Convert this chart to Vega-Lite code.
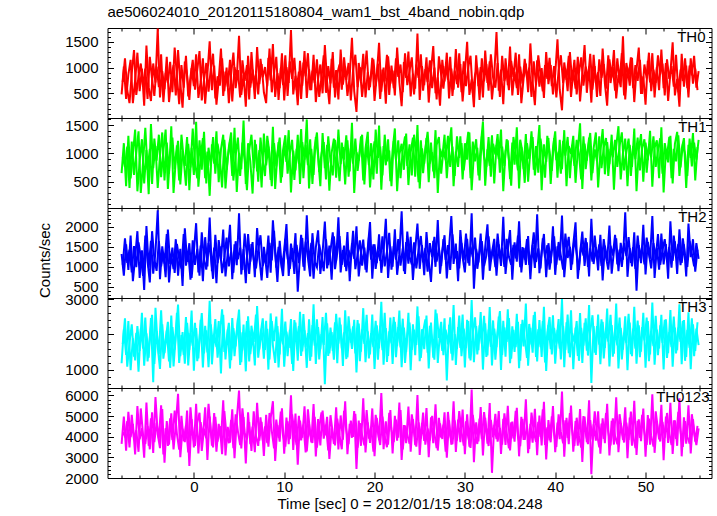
{
"$schema": "https://vega.github.io/schema/vega-lite/v6.json",
"padding": {"left": 36.5, "top": 4, "right": 2, "bottom": 2},
"background": "white",
"spacing": 0,
"bounds": "flush",
"config": {
  "font": "Liberation Sans",
  "view": {"stroke": "black", "strokeWidth": 1},
  "concat": {"spacing": 0},
  "line": {"strokeWidth": 2},
  "axis": {"format": "d", "labelFont": "Liberation Sans", "labelFontSize": 15, "labelColor": "black", "titleFont": "Liberation Sans", "titleFontSize": 15, "titleFontWeight": "normal", "titleColor": "black", "grid": false, "domain": false, "tickColor": "black", "tickWidth": 1, "labelOverlap": false, "labelFlush": false, "labelBound": false, "labelPadding": 15.5, "titlePadding": 12}
},
"datasets": {"lc": [
{"t":-8,"a":480,"b":650,"c":1320,"d":1180,"e":3650},
{"t":-7.75,"a":1020,"b":1180,"c":780,"d":2150,"e":4980},
{"t":-7.5,"a":390,"b":420,"c":1560,"d":1420,"e":3320},
{"t":-7.25,"a":870,"b":1310,"c":920,"d":2380,"e":5210},
{"t":-7,"a":1150,"b":560,"c":1780,"d":980,"e":3980},
{"t":-6.75,"a":310,"b":980,"c":640,"d":1890,"e":4620},
{"t":-6.5,"a":760,"b":1420,"c":1230,"d":1260,"e":3140},
{"t":-6.25,"a":1290,"b":330,"c":1890,"d":2240,"e":5480},
{"t":-6,"a":540,"b":870,"c":720,"d":1530,"e":3870},
{"t":-5.75,"a":980,"b":1250,"c":1410,"d":2620,"e":4410},
{"t":-5.5,"a":260,"b":470,"c":420,"d":1110,"e":2980},
{"t":-5.25,"a":1430,"b":1060,"c":2020,"d":2030,"e":5660},
{"t":-5,"a":620,"b":280,"c":980,"d":1340,"e":3560},
{"t":-4.75,"a":350,"b":1520,"c":1650,"d":2470,"e":4890},
{"t":-4.5,"a":1080,"b":740,"c":830,"d":640,"e":3210},
{"t":-4.25,"a":710,"b":1130,"c":1370,"d":2760,"e":5920},
{"t":-4,"a":1760,"b":390,"c":2410,"d":1650,"e":4120},
{"t":-3.75,"a":420,"b":960,"c":690,"d":1020,"e":3450},
{"t":-3.5,"a":930,"b":1370,"c":1510,"d":2290,"e":5340},
{"t":-3.25,"a":580,"b":520,"c":1080,"d":1470,"e":2740},
{"t":-3,"a":1210,"b":1190,"c":1820,"d":2110,"e":4760},
{"t":-2.75,"a":330,"b":640,"c":610,"d":1230,"e":3620},
{"t":-2.5,"a":800,"b":1480,"c":1290,"d":2540,"e":5130},
{"t":-2.25,"a":1050,"b":300,"c":940,"d":1090,"e":3380},
{"t":-2,"a":460,"b":890,"c":1690,"d":1960,"e":4570},
{"t":-1.75,"a":1340,"b":1220,"c":780,"d":2850,"e":6080},
{"t":-1.5,"a":690,"b":450,"c":1450,"d":1380,"e":3010},
{"t":-1.25,"a":220,"b":1040,"c":520,"d":2070,"e":4390},
{"t":-1,"a":1120,"b":780,"c":1960,"d":1170,"e":3740},
{"t":-0.75,"a":850,"b":1290,"c":1120,"d":2330,"e":5270},
{"t":-0.5,"a":370,"b":350,"c":1590,"d":1560,"e":2580},
{"t":-0.25,"a":990,"b":1100,"c":720,"d":2680,"e":4850},
{"t":0,"a":640,"b":620,"c":1380,"d":970,"e":3480},
{"t":0.25,"a":1260,"b":1560,"c":2090,"d":2180,"e":5590},
{"t":0.5,"a":410,"b":410,"c":860,"d":1320,"e":3190},
{"t":0.75,"a":720,"b":940,"c":1530,"d":2420,"e":4710},
{"t":1,"a":1180,"b":1270,"c":640,"d":1060,"e":3920},
{"t":1.25,"a":300,"b":560,"c":1740,"d":2250,"e":5420},
{"t":1.5,"a":880,"b":1030,"c":1010,"d":1490,"e":2870},
{"t":1.75,"a":1510,"b":250,"c":2230,"d":2960,"e":4980},
{"t":2,"a":560,"b":1160,"c":890,"d":1150,"e":3560},
{"t":2.25,"a":1040,"b":820,"c":1480,"d":2020,"e":5150},
{"t":2.5,"a":280,"b":1390,"c":590,"d":1640,"e":3270},
{"t":2.75,"a":760,"b":490,"c":1670,"d":2380,"e":4620},
{"t":3,"a":1370,"b":1070,"c":1160,"d":890,"e":3830},
{"t":3.25,"a":450,"b":1330,"c":1930,"d":2560,"e":5760},
{"t":3.5,"a":920,"b":380,"c":760,"d":1290,"e":3090},
{"t":3.75,"a":630,"b":930,"c":1350,"d":2150,"e":4480},
{"t":4,"a":1150,"b":1210,"c":2050,"d":1030,"e":3710},
{"t":4.25,"a":340,"b":600,"c":690,"d":2470,"e":5330},
{"t":4.5,"a":1010,"b":1450,"c":1560,"d":1380,"e":2960},
{"t":4.75,"a":790,"b":320,"c":1040,"d":2090,"e":4830},
{"t":5,"a":1620,"b":1010,"c":2340,"d":2710,"e":6240},
{"t":5.25,"a":470,"b":720,"c":810,"d":1210,"e":3430},
{"t":5.5,"a":860,"b":1580,"c":1440,"d":2280,"e":4950},
{"t":5.75,"a":240,"b":460,"c":590,"d":950,"e":2710},
{"t":6,"a":1230,"b":1180,"c":1820,"d":2520,"e":5180},
{"t":6.25,"a":610,"b":860,"c":1130,"d":1440,"e":3640},
{"t":6.5,"a":960,"b":290,"c":1620,"d":2030,"e":4490},
{"t":6.75,"a":390,"b":1240,"c":740,"d":1120,"e":3250},
{"t":7,"a":1400,"b":680,"c":1970,"d":2810,"e":5640},
{"t":7.25,"a":680,"b":1060,"c":1230,"d":1570,"e":3810},
{"t":7.5,"a":1070,"b":400,"c":660,"d":2170,"e":4720},
{"t":7.75,"a":520,"b":1350,"c":1500,"d":1310,"e":3070},
{"t":8,"a":310,"b":790,"c":1060,"d":2390,"e":5060},
{"t":8.25,"a":1190,"b":1120,"c":1780,"d":1000,"e":3520},
{"t":8.5,"a":750,"b":530,"c":850,"d":2600,"e":4890},
{"t":8.75,"a":1460,"b":1470,"c":2160,"d":1690,"e":5720},
{"t":9,"a":430,"b":370,"c":1340,"d":1190,"e":2830},
{"t":9.25,"a":890,"b":990,"c":620,"d":2240,"e":4560},
{"t":9.5,"a":600,"b":1280,"c":1650,"d":1430,"e":3760},
{"t":9.75,"a":1280,"b":580,"c":960,"d":2730,"e":5380},
{"t":10,"a":360,"b":1140,"c":1410,"d":1080,"e":3180},
{"t":10.25,"a":1010,"b":850,"c":2070,"d":2080,"e":4930},
{"t":10.5,"a":700,"b":1410,"c":770,"d":1620,"e":3640},
{"t":10.75,"a":1730,"b":310,"c":1580,"d":2440,"e":6010},
{"t":11,"a":480,"b":1050,"c":1120,"d":960,"e":3360},
{"t":11.25,"a":840,"b":700,"c":1840,"d":2340,"e":5120},
{"t":11.5,"a":270,"b":1330,"c":380,"d":1250,"e":2650},
{"t":11.75,"a":1130,"b":460,"c":1290,"d":2650,"e":4780},
{"t":12,"a":650,"b":1200,"c":1720,"d":1520,"e":3950},
{"t":12.25,"a":1320,"b":890,"c":900,"d":2120,"e":5470},
{"t":12.5,"a":410,"b":1600,"c":2290,"d":1050,"e":3290},
{"t":12.75,"a":970,"b":380,"c":1050,"d":2430,"e":4620},
{"t":13,"a":560,"b":1080,"c":1600,"d":1370,"e":3720},
{"t":13.25,"a":1250,"b":620,"c":700,"d":2860,"e":5580},
{"t":13.5,"a":330,"b":1290,"c":1480,"d":1160,"e":3040},
{"t":13.75,"a":780,"b":950,"c":1910,"d":2210,"e":4850},
{"t":14,"a":1060,"b":420,"c":820,"d":1580,"e":3580},
{"t":14.25,"a":500,"b":1360,"c":1370,"d":2500,"e":5270},
{"t":14.5,"a":1440,"b":740,"c":2130,"d":580,"e":4070},
{"t":14.75,"a":720,"b":1150,"c":960,"d":2320,"e":4960},
{"t":15,"a":290,"b":340,"c":1530,"d":1460,"e":2920},
{"t":15.25,"a":1170,"b":1010,"c":680,"d":2070,"e":4410},
{"t":15.5,"a":610,"b":1260,"c":1760,"d":1280,"e":3650},
{"t":15.75,"a":950,"b":570,"c":1160,"d":2590,"e":5430},
{"t":16,"a":380,"b":1420,"c":2240,"d":1740,"e":3380},
{"t":16.25,"a":1350,"b":810,"c":860,"d":2280,"e":5030},
{"t":16.5,"a":670,"b":1110,"c":1420,"d":1100,"e":3850},
{"t":16.75,"a":1020,"b":450,"c":1000,"d":2690,"e":5710},
{"t":17,"a":450,"b":1230,"c":1870,"d":1350,"e":3150},
{"t":17.25,"a":830,"b":680,"c":640,"d":2160,"e":4620},
{"t":17.5,"a":1580,"b":1540,"c":1590,"d":1590,"e":3950},
{"t":17.75,"a":540,"b":300,"c":1200,"d":2420,"e":5240},
{"t":18,"a":140,"b":1020,"c":2010,"d":920,"e":2440},
{"t":18.25,"a":1090,"b":870,"c":760,"d":2310,"e":4780},
{"t":18.5,"a":740,"b":1300,"c":1340,"d":1510,"e":3560},
{"t":18.75,"a":1270,"b":520,"c":1680,"d":2750,"e":5860},
{"t":19,"a":420,"b":1090,"c":930,"d":1210,"e":3240},
{"t":19.25,"a":910,"b":1380,"c":1460,"d":2090,"e":4690},
{"t":19.5,"a":620,"b":400,"c":2120,"d":1430,"e":3700},
{"t":19.75,"a":1190,"b":960,"c":700,"d":2570,"e":5370},
{"t":20,"a":350,"b":1210,"c":1560,"d":1020,"e":3060},
{"t":20.25,"a":860,"b":640,"c":1090,"d":2260,"e":4910},
{"t":20.5,"a":1480,"b":1490,"c":1810,"d":1600,"e":3830},
{"t":20.75,"a":530,"b":360,"c":850,"d":2930,"e":6120},
{"t":21,"a":1000,"b":1130,"c":1390,"d":1140,"e":3400},
{"t":21.25,"a":300,"b":790,"c":2200,"d":2180,"e":4740},
{"t":21.5,"a":1220,"b":1250,"c":720,"d":1390,"e":3620},
{"t":21.75,"a":690,"b":510,"c":1510,"d":2480,"e":5290},
{"t":22,"a":940,"b":1060,"c":1000,"d":1160,"e":3190},
{"t":22.25,"a":460,"b":1440,"c":1940,"d":2360,"e":5010},
{"t":22.5,"a":1390,"b":330,"c":800,"d":1670,"e":3810},
{"t":22.75,"a":710,"b":980,"c":1310,"d":2680,"e":5650},
{"t":23,"a":250,"b":1170,"c":2390,"d":1070,"e":2870},
{"t":23.25,"a":1110,"b":710,"c":890,"d":2200,"e":4560},
{"t":23.5,"a":800,"b":1350,"c":1620,"d":1500,"e":3690},
{"t":23.75,"a":1310,"b":440,"c":1080,"d":2620,"e":5460},
{"t":24,"a":440,"b":1020,"c":1750,"d":980,"e":3280},
{"t":24.25,"a":880,"b":1280,"c":670,"d":2290,"e":4860},
{"t":24.5,"a":590,"b":590,"c":1430,"d":1410,"e":3590},
{"t":24.75,"a":1660,"b":1500,"c":2080,"d":2800,"e":6020},
{"t":25,"a":370,"b":380,"c":950,"d":1240,"e":3120},
{"t":25.25,"a":1030,"b":1090,"c":1540,"d":2150,"e":4670},
{"t":25.5,"a":660,"b":820,"c":790,"d":1580,"e":3800},
{"t":25.75,"a":1200,"b":1270,"c":1870,"d":2540,"e":5390},
{"t":26,"a":320,"b":490,"c":1150,"d":1030,"e":3010},
{"t":26.25,"a":940,"b":1190,"c":620,"d":2340,"e":4940},
{"t":26.5,"a":1420,"b":680,"c":1650,"d":1340,"e":3690},
{"t":26.75,"a":500,"b":1410,"c":1000,"d":2710,"e":5570},
{"t":27,"a":810,"b":300,"c":2170,"d":1190,"e":3330},
{"t":27.25,"a":260,"b":1080,"c":830,"d":2100,"e":4650},
{"t":27.5,"a":1150,"b":930,"c":1390,"d":1530,"e":3890},
{"t":27.75,"a":730,"b":1330,"c":1790,"d":2460,"e":5180},
{"t":28,"a":1290,"b":560,"c":710,"d":690,"e":2980},
{"t":28.25,"a":400,"b":1120,"c":1480,"d":2280,"e":4790},
{"t":28.5,"a":980,"b":1460,"c":2270,"d":1450,"e":3610},
{"t":28.75,"a":570,"b":420,"c":1070,"d":2840,"e":5720},
{"t":29,"a":1360,"b":1030,"c":1580,"d":1130,"e":3260},
{"t":29.25,"a":610,"b":760,"c":640,"d":2210,"e":4830},
{"t":29.5,"a":1070,"b":1300,"c":1920,"d":1620,"e":3740},
{"t":29.75,"a":340,"b":540,"c":1240,"d":2570,"e":5310},
{"t":30,"a":890,"b":1180,"c":860,"d":1060,"e":3150},
{"t":30.25,"a":1500,"b":890,"c":1700,"d":2420,"e":5080},
{"t":30.5,"a":470,"b":1370,"c":1030,"d":1320,"e":3520},
{"t":30.75,"a":770,"b":350,"c":2340,"d":2980,"e":6280},
{"t":31,"a":230,"b":1000,"c":450,"d":1210,"e":2760},
{"t":31.25,"a":1240,"b":1250,"c":1450,"d":2240,"e":4700},
{"t":31.5,"a":640,"b":610,"c":1110,"d":1550,"e":3770},
{"t":31.75,"a":1010,"b":1120,"c":1830,"d":2640,"e":5440},
{"t":32,"a":420,"b":1560,"c":680,"d":1000,"e":3090},
{"t":32.25,"a":1330,"b":430,"c":1500,"d":2320,"e":4920},
{"t":32.5,"a":700,"b":1070,"c":2060,"d":1400,"e":3660},
{"t":32.75,"a":1120,"b":780,"c":900,"d":2780,"e":5630},
{"t":33,"a":380,"b":1320,"c":1360,"d":1120,"e":2250},
{"t":33.25,"a":850,"b":470,"c":1700,"d":2170,"e":4580},
{"t":33.5,"a":1690,"b":1150,"c":780,"d":1640,"e":3880},
{"t":33.75,"a":550,"b":900,"c":1560,"d":2510,"e":5240},
{"t":34,"a":960,"b":1420,"c":1020,"d":990,"e":3170},
{"t":34.25,"a":290,"b":330,"c":2250,"d":2390,"e":4870},
{"t":34.5,"a":1180,"b":1040,"c":820,"d":1370,"e":3600},
{"t":34.75,"a":660,"b":1230,"c":1440,"d":2720,"e":5500},
{"t":35,"a":1410,"b":550,"c":1920,"d":1180,"e":3340},
{"t":35.25,"a":460,"b":1190,"c":680,"d":2230,"e":4730},
{"t":35.5,"a":920,"b":800,"c":1610,"d":1500,"e":3760},
{"t":35.75,"a":600,"b":1460,"c":1130,"d":2590,"e":5400},
{"t":36,"a":1260,"b":380,"c":2140,"d":1040,"e":3050},
{"t":36.25,"a":310,"b":1110,"c":860,"d":2300,"e":4960},
{"t":36.5,"a":790,"b":720,"c":1470,"d":1660,"e":3840},
{"t":36.75,"a":1080,"b":1340,"c":1050,"d":2880,"e":5810},
{"t":37,"a":520,"b":500,"c":1770,"d":1110,"e":3200},
{"t":37.25,"a":1470,"b":1060,"c":690,"d":2190,"e":4620},
{"t":37.5,"a":720,"b":1290,"c":1550,"d":1480,"e":3710},
{"t":37.75,"a":270,"b":610,"c":970,"d":2650,"e":5350},
{"t":38,"a":1140,"b":1000,"c":2310,"d":1230,"e":3100},
{"t":38.25,"a":630,"b":1500,"c":840,"d":2410,"e":5030},
{"t":38.5,"a":990,"b":350,"c":1380,"d":1360,"e":3580},
{"t":38.75,"a":410,"b":1160,"c":1820,"d":2790,"e":5690},
{"t":39,"a":1300,"b":850,"c":740,"d":960,"e":2900},
{"t":39.25,"a":680,"b":1270,"c":1590,"d":2270,"e":4810},
{"t":39.5,"a":1050,"b":460,"c":1090,"d":1580,"e":3730},
{"t":39.75,"a":480,"b":1090,"c":2010,"d":2550,"e":5480},
{"t":40,"a":870,"b":1390,"c":800,"d":1170,"e":3250},
{"t":40.25,"a":1550,"b":570,"c":1510,"d":2130,"e":4690},
{"t":40.5,"a":570,"b":1240,"c":1160,"d":1600,"e":3880},
{"t":40.75,"a":170,"b":720,"c":2280,"d":3010,"e":6190},
{"t":41,"a":1100,"b":1410,"c":740,"d":1070,"e":3030},
{"t":41.25,"a":760,"b":420,"c":1420,"d":2350,"e":4910},
{"t":41.5,"a":1230,"b":1130,"c":1750,"d":1470,"e":3640},
{"t":41.75,"a":430,"b":990,"c":920,"d":2690,"e":5510},
{"t":42,"a":950,"b":1310,"c":1560,"d":1010,"e":3270},
{"t":42.25,"a":590,"b":480,"c":2110,"d":2200,"e":4760},
{"t":42.5,"a":1210,"b":1050,"c":700,"d":1390,"e":3570},
{"t":42.75,"a":340,"b":1530,"c":1330,"d":2610,"e":5340},
{"t":43,"a":880,"b":370,"c":1880,"d":1190,"e":2780},
{"t":43.25,"a":1440,"b":1170,"c":1020,"d":2330,"e":4970},
{"t":43.5,"a":510,"b":870,"c":1610,"d":1540,"e":3740},
{"t":43.75,"a":1020,"b":1280,"c":760,"d":2840,"e":5770},
{"t":44,"a":320,"b":520,"c":2200,"d":620,"e":2180},
{"t":44.25,"a":1250,"b":1090,"c":1070,"d":2240,"e":4600},
{"t":44.5,"a":700,"b":1370,"c":1490,"d":1420,"e":3810},
{"t":44.75,"a":910,"b":400,"c":910,"d":2570,"e":5230},
{"t":45,"a":450,"b":1020,"c":1800,"d":1150,"e":3180},
{"t":45.25,"a":1370,"b":1430,"c":660,"d":2360,"e":4890},
{"t":45.5,"a":690,"b":630,"c":1530,"d":1620,"e":3690},
{"t":45.75,"a":260,"b":1200,"c":1140,"d":2740,"e":5600},
{"t":46,"a":1160,"b":810,"c":2030,"d":1090,"e":3090},
{"t":46.25,"a":810,"b":1330,"c":830,"d":2270,"e":4770},
{"t":46.5,"a":1340,"b":360,"c":1400,"d":1450,"e":3620},
{"t":46.75,"a":400,"b":1120,"c":1710,"d":2880,"e":5910},
{"t":47,"a":860,"b":1480,"c":890,"d":1030,"e":3250},
{"t":47.25,"a":620,"b":540,"c":1600,"d":2190,"e":4660},
{"t":47.5,"a":1610,"b":1010,"c":1180,"d":1570,"e":3850},
{"t":47.75,"a":380,"b":1260,"c":2360,"d":2520,"e":5420},
{"t":48,"a":1000,"b":420,"c":750,"d":980,"e":2960},
{"t":48.25,"a":650,"b":1150,"c":1470,"d":2340,"e":4930},
{"t":48.5,"a":1190,"b":760,"c":1010,"d":1380,"e":3570},
{"t":48.75,"a":330,"b":1440,"c":1860,"d":2790,"e":5740},
{"t":49,"a":960,"b":330,"c":400,"d":1170,"e":3120},
{"t":49.25,"a":1390,"b":1060,"c":1540,"d":2260,"e":4840},
{"t":49.5,"a":490,"b":1340,"c":1090,"d":1510,"e":3780},
{"t":49.75,"a":830,"b":500,"c":2050,"d":2620,"e":5360},
{"t":50,"a":280,"b":1190,"c":810,"d":1050,"e":3030},
{"t":50.25,"a":1130,"b":880,"c":1620,"d":2380,"e":5050},
{"t":50.5,"a":710,"b":1400,"c":1200,"d":1430,"e":3610},
{"t":50.75,"a":1280,"b":410,"c":2270,"d":2910,"e":6060},
{"t":51,"a":420,"b":1100,"c":720,"d":1140,"e":3220},
{"t":51.25,"a":1010,"b":1230,"c":1480,"d":2140,"e":4710},
{"t":51.5,"a":560,"b":560,"c":930,"d":1600,"e":3870},
{"t":51.75,"a":1350,"b":1460,"c":1830,"d":2560,"e":5550},
{"t":52,"a":600,"b":310,"c":1060,"d":1000,"e":2860},
{"t":52.25,"a":1090,"b":1050,"c":1570,"d":2430,"e":4980},
{"t":52.5,"a":350,"b":840,"c":700,"d":1470,"e":3700},
{"t":52.75,"a":900,"b":1310,"c":2140,"d":2700,"e":5640},
{"t":53,"a":1490,"b":470,"c":1150,"d":1080,"e":3160},
{"t":53.25,"a":460,"b":1170,"c":1640,"d":2200,"e":4790},
{"t":53.5,"a":780,"b":1380,"c":820,"d":1550,"e":3560},
{"t":53.75,"a":240,"b":600,"c":1940,"d":2860,"e":5860},
{"t":54,"a":1270,"b":1080,"c":1100,"d":1150,"e":3050},
{"t":54.25,"a":630,"b":1270,"c":1560,"d":2410,"e":4940},
{"t":54.5,"a":1040,"b":390,"c":760,"d":1360,"e":3660},
{"t":54.75,"a":420,"b":1150,"c":2080,"d":2630,"e":5520},
{"t":55,"a":1180,"b":920,"c":1240,"d":1010,"e":3190},
{"t":55.25,"a":690,"b":1360,"c":1690,"d":2290,"e":4850},
{"t":55.5,"a":980,"b":520,"c":880,"d":1530,"e":3760},
{"t":55.75,"a":560,"b":1110,"c":1430,"d":2350,"e":4520}
],
"lc2": [
{"t":-7.875,"a":720,"b":930,"c":1050,"d":1730,"e":4230},
{"t":-7.625,"a":1180,"b":760,"c":1710,"d":2460,"e":4020},
{"t":-7.375,"a":560,"b":1120,"c":1100,"d":1080,"e":4750},
{"t":-7.125,"a":310,"b":390,"c":1430,"d":1760,"e":3480},
{"t":-6.875,"a":890,"b":1210,"c":860,"d":2290,"e":5060},
{"t":-6.625,"a":1340,"b":620,"c":1520,"d":1370,"e":3830},
{"t":-6.375,"a":470,"b":1010,"c":990,"d":2050,"e":4310},
{"t":-6.125,"a":830,"b":1390,"c":1610,"d":940,"e":3270},
{"t":-5.875,"a":1080,"b":300,"c":1240,"d":2170,"e":5370},
{"t":-5.625,"a":640,"b":840,"c":770,"d":1600,"e":4090},
{"t":-5.375,"a":980,"b":1450,"c":1780,"d":2480,"e":3650},
{"t":-5.125,"a":390,"b":710,"c":1140,"d":1230,"e":4520},
{"t":-4.875,"a":1210,"b":1080,"c":610,"d":1910,"e":3390},
{"t":-4.625,"a":770,"b":460,"c":1890,"d":2560,"e":5180},
{"t":-4.375,"a":450,"b":1260,"c":1190,"d":1160,"e":3740},
{"t":-4.125,"a":1020,"b":870,"c":900,"d":2100,"e":4670},
{"t":-3.875,"a":620,"b":1330,"c":1640,"d":1440,"e":3920},
{"t":-3.625,"a":1260,"b":580,"c":1010,"d":2690,"e":5520},
{"t":-3.375,"a":330,"b":1050,"c":1350,"d":1310,"e":3140},
{"t":-3.125,"a":900,"b":1420,"c":740,"d":1830,"e":4410},
{"t":-2.875,"a":700,"b":370,"c":1930,"d":2360,"e":3560},
{"t":-2.625,"a":1110,"b":980,"c":1070,"d":1050,"e":4890},
{"t":-2.375,"a":520,"b":1280,"c":1480,"d":2210,"e":3830},
{"t":-2.125,"a":1390,"b":720,"c":850,"d":1570,"e":5270},
{"t":-1.875,"a":840,"b":1140,"c":1570,"d":2620,"e":4140},
{"t":-1.625,"a":290,"b":520,"c":1200,"d":1190,"e":3370},
{"t":-1.375,"a":1050,"b":1330,"c":960,"d":1980,"e":5010},
{"t":-1.125,"a":610,"b":900,"c":1820,"d":1420,"e":3790},
{"t":-0.875,"a":1230,"b":430,"c":1030,"d":2500,"e":4550},
{"t":-0.625,"a":440,"b":1170,"c":1390,"d":1120,"e":3240},
{"t":-0.375,"a":820,"b":750,"c":680,"d":2040,"e":5420},
{"t":-0.125,"a":1150,"b":1440,"c":1660,"d":1680,"e":4080},
{"t":0.125,"a":570,"b":830,"c":1050,"d":2330,"e":3560},
{"t":0.375,"a":950,"b":560,"c":1450,"d":1240,"e":4680},
{"t":0.625,"a":1320,"b":1230,"c":780,"d":1870,"e":5160},
{"t":0.875,"a":360,"b":710,"c":1860,"d":2610,"e":3310},
{"t":1.125,"a":760,"b":1380,"c":1190,"d":1460,"e":4390},
{"t":1.375,"a":1090,"b":470,"c":930,"d":2120,"e":3920},
{"t":1.625,"a":530,"b":1100,"c":1590,"d":1070,"e":5590},
{"t":1.875,"a":980,"b":780,"c":1270,"d":2290,"e":4270},
{"t":2.125,"a":1270,"b":1290,"c":700,"d":1660,"e":3480},
{"t":2.375,"a":400,"b":640,"c":1800,"d":2440,"e":4960},
{"t":2.625,"a":830,"b":1170,"c":1090,"d":1340,"e":3760},
{"t":2.875,"a":650,"b":920,"c":1510,"d":2010,"e":4520},
{"t":3.125,"a":1180,"b":400,"c":840,"d":2720,"e":3150},
{"t":3.375,"a":540,"b":1240,"c":1240,"d":1500,"e":5240},
{"t":3.625,"a":1000,"b":710,"c":1730,"d":1870,"e":4010},
{"t":3.875,"a":310,"b":1110,"c":1010,"d":2330,"e":3690},
{"t":4.125,"a":870,"b":1370,"c":1380,"d":1270,"e":4820},
{"t":4.375,"a":1290,"b":520,"c":850,"d":2180,"e":3440},
{"t":4.625,"a":600,"b":960,"c":1640,"d":1660,"e":5080},
{"t":4.875,"a":950,"b":1280,"c":1190,"d":2450,"e":4260},
{"t":5.125,"a":420,"b":600,"c":1480,"d":1130,"e":3590},
{"t":5.375,"a":1140,"b":1190,"c":920,"d":2060,"e":5370},
{"t":5.625,"a":740,"b":880,"c":1830,"d":1550,"e":4170},
{"t":5.875,"a":1050,"b":350,"c":1290,"d":2380,"e":3880},
{"t":6.125,"a":380,"b":1060,"c":820,"d":1230,"e":4710},
{"t":6.375,"a":1300,"b":1330,"c":1570,"d":2250,"e":3310},
{"t":6.625,"a":690,"b":740,"c":1180,"d":1790,"e":5230},
{"t":6.875,"a":870,"b":1160,"c":960,"d":2570,"e":4020},
{"t":7.125,"a":480,"b":500,"c":1420,"d":1340,"e":3560},
{"t":7.375,"a":1170,"b":1280,"c":1790,"d":2000,"e":4940},
{"t":7.625,"a":810,"b":870,"c":1020,"d":2460,"e":3820},
{"t":7.875,"a":1010,"b":600,"c":1280,"d":1560,"e":4500},
{"t":8.125,"a":640,"b":1310,"c":720,"d":2160,"e":3690},
{"t":8.375,"a":1370,"b":990,"c":1600,"d":1290,"e":5150},
{"t":8.625,"a":520,"b":420,"c":1160,"d":2380,"e":4280},
{"t":8.875,"a":890,"b":1180,"c":1900,"d":1810,"e":3440},
{"t":9.125,"a":1210,"b":770,"c":980,"d":2510,"e":4830},
{"t":9.375,"a":370,"b":1200,"c":1500,"d":1060,"e":3960},
{"t":9.625,"a":990,"b":480,"c":1130,"d":2060,"e":5220},
{"t":9.875,"a":660,"b":1060,"c":770,"d":1720,"e":4040},
{"t":10.125,"a":1240,"b":1320,"c":1700,"d":2370,"e":3520},
{"t":10.375,"a":450,"b":640,"c":1210,"d":1380,"e":4740},
{"t":10.625,"a":1120,"b":1000,"c":950,"d":2130,"e":3880},
{"t":10.875,"a":780,"b":1240,"c":1470,"d":1160,"e":5080},
{"t":11.125,"a":1190,"b":530,"c":820,"d":2410,"e":4230},
{"t":11.375,"a":560,"b":1080,"c":1550,"d":1790,"e":3590},
{"t":11.625,"a":920,"b":820,"c":1090,"d":2240,"e":5010},
{"t":11.875,"a":390,"b":1430,"c":1800,"d":1390,"e":3820},
{"t":12.125,"a":1100,"b":560,"c":1000,"d":2580,"e":4590},
{"t":12.375,"a":830,"b":1150,"c":1630,"d":1640,"e":3240},
{"t":12.625,"a":1280,"b":790,"c":1230,"d":2040,"e":5330},
{"t":12.875,"a":560,"b":1250,"c":760,"d":1250,"e":4130},
{"t":13.125,"a":940,"b":460,"c":1840,"d":2270,"e":3700},
{"t":13.375,"a":700,"b":1110,"c":1120,"d":1680,"e":4960},
{"t":13.625,"a":1160,"b":1370,"c":990,"d":2430,"e":3470},
{"t":13.875,"a":430,"b":670,"c":1560,"d":1290,"e":4440},
{"t":14.125,"a":800,"b":990,"c":1260,"d":2010,"e":5180},
{"t":14.375,"a":1240,"b":1200,"c":890,"d":1700,"e":3910},
{"t":14.625,"a":510,"b":540,"c":1690,"d":2620,"e":4580},
{"t":14.875,"a":1030,"b":1300,"c":1040,"d":1390,"e":3340},
{"t":15.125,"a":690,"b":860,"c":1400,"d":2200,"e":5040},
{"t":15.375,"a":1300,"b":610,"c":1860,"d":1530,"e":4170},
{"t":15.625,"a":420,"b":1240,"c":940,"d":2350,"e":3580},
{"t":15.875,"a":880,"b":940,"c":1360,"d":1180,"e":4870},
{"t":16.125,"a":1060,"b":510,"c":1770,"d":2480,"e":4060},
{"t":16.375,"a":570,"b":1190,"c":1050,"d":1600,"e":3390},
{"t":16.625,"a":1200,"b":890,"c":1530,"d":2060,"e":5250},
{"t":16.875,"a":760,"b":1320,"c":890,"d":1300,"e":4310},
{"t":17.125,"a":1090,"b":590,"c":1420,"d":2520,"e":3640},
{"t":17.375,"a":360,"b":1090,"c":1170,"d":1770,"e":4780},
{"t":17.625,"a":950,"b":820,"c":1900,"d":2230,"e":3990},
{"t":17.875,"a":1250,"b":1260,"c":940,"d":1460,"e":5110},
{"t":18.125,"a":620,"b":690,"c":1310,"d":2410,"e":3470},
{"t":18.375,"a":1010,"b":1030,"c":1660,"d":1240,"e":4660},
{"t":18.625,"a":430,"b":1330,"c":1030,"d":2150,"e":4090},
{"t":18.875,"a":880,"b":450,"c":1480,"d":1730,"e":3580},
{"t":19.125,"a":1330,"b":1160,"c":860,"d":2560,"e":5290},
{"t":19.375,"a":560,"b":790,"c":1730,"d":1320,"e":3910},
{"t":19.625,"a":860,"b":1180,"c":1180,"d":2040,"e":4470},
{"t":19.875,"a":1160,"b":540,"c":1560,"d":1640,"e":3280},
{"t":20.125,"a":640,"b":1420,"c":950,"d":2390,"e":5060},
{"t":20.375,"a":1080,"b":920,"c":1410,"d":1280,"e":4210},
{"t":20.625,"a":390,"b":1120,"c":1150,"d":2250,"e":3600},
{"t":20.875,"a":960,"b":610,"c":1760,"d":1550,"e":4970},
{"t":21.125,"a":730,"b":1330,"c":1010,"d":2620,"e":4010},
{"t":21.375,"a":1250,"b":860,"c":1380,"d":1220,"e":3490},
{"t":21.625,"a":470,"b":1050,"c":1850,"d":2090,"e":5160},
{"t":21.875,"a":1040,"b":420,"c":930,"d":1750,"e":4340},
{"t":22.125,"a":600,"b":1220,"c":1520,"d":2500,"e":3740},
{"t":22.375,"a":1180,"b":880,"c":1180,"d":1350,"e":4830},
{"t":22.625,"a":820,"b":1230,"c":1690,"d":2210,"e":3950},
{"t":22.875,"a":1060,"b":560,"c":1030,"d":1630,"e":5290},
{"t":23.125,"a":520,"b":1060,"c":1460,"d":2450,"e":3380},
{"t":23.375,"a":1280,"b":1300,"c":820,"d":1190,"e":4540},
{"t":23.625,"a":660,"b":780,"c":1880,"d":1980,"e":4110},
{"t":23.875,"a":930,"b":1160,"c":1250,"d":2340,"e":3660},
{"t":24.125,"a":1200,"b":610,"c":1060,"d":1560,"e":5080},
{"t":24.375,"a":480,"b":1330,"c":1610,"d":2140,"e":4270},
{"t":24.625,"a":1060,"b":1010,"c":960,"d":1700,"e":3520},
{"t":24.875,"a":800,"b":490,"c":1420,"d":2520,"e":4690},
{"t":25.125,"a":1260,"b":1230,"c":1770,"d":1330,"e":3900},
{"t":25.375,"a":550,"b":650,"c":1110,"d":2080,"e":5170},
{"t":25.625,"a":970,"b":1080,"c":1470,"d":2430,"e":3620},
{"t":25.875,"a":720,"b":1380,"c":880,"d":1480,"e":4400},
{"t":26.125,"a":1140,"b":820,"c":1590,"d":2250,"e":3810},
{"t":26.375,"a":600,"b":1020,"c":1240,"d":1820,"e":5010},
{"t":26.625,"a":1000,"b":560,"c":1750,"d":1280,"e":4150},
{"t":26.875,"a":380,"b":1150,"c":1130,"d":2600,"e":3450},
{"t":27.125,"a":1220,"b":1290,"c":1460,"d":1900,"e":4910},
{"t":27.375,"a":860,"b":640,"c":1020,"d":2360,"e":3960},
{"t":27.625,"a":590,"b":1060,"c":1690,"d":1410,"e":4580},
{"t":27.875,"a":1030,"b":880,"c":1170,"d":2140,"e":3280},
{"t":28.125,"a":760,"b":1310,"c":1540,"d":1720,"e":5200},
{"t":28.375,"a":1210,"b":760,"c":920,"d":2490,"e":4060},
{"t":28.625,"a":450,"b":1120,"c":1810,"d":1260,"e":3640},
{"t":28.875,"a":940,"b":600,"c":1210,"d":2010,"e":4790},
{"t":29.125,"a":680,"b":1300,"c":1390,"d":1590,"e":3810},
{"t":29.375,"a":1280,"b":920,"c":960,"d":2540,"e":5240},
{"t":29.625,"a":520,"b":1180,"c":1600,"d":1380,"e":4250},
{"t":29.875,"a":1120,"b":700,"c":1160,"d":2170,"e":3570},
{"t":30.125,"a":640,"b":1040,"c":1830,"d":1610,"e":4740},
{"t":30.375,"a":1010,"b":1380,"c":1090,"d":2380,"e":3980},
{"t":30.625,"a":1230,"b":560,"c":1500,"d":1260,"e":3460},
{"t":30.875,"a":500,"b":1210,"c":1240,"d":2070,"e":5060},
{"t":31.125,"a":860,"b":860,"c":1730,"d":2490,"e":4160},
{"t":31.375,"a":1000,"b":1100,"c":950,"d":1430,"e":3650},
{"t":31.625,"a":370,"b":520,"c":1350,"d":2260,"e":4880},
{"t":31.875,"a":1180,"b":1300,"c":1640,"d":1740,"e":3880},
{"t":32.125,"a":730,"b":940,"c":1020,"d":2530,"e":5190},
{"t":32.375,"a":1070,"b":760,"c":1280,"d":1360,"e":4330},
{"t":32.625,"a":550,"b":1290,"c":1760,"d":2140,"e":3550},
{"t":32.875,"a":1260,"b":590,"c":1140,"d":1650,"e":4820},
{"t":33.125,"a":800,"b":1170,"c":1470,"d":2400,"e":3970},
{"t":33.375,"a":610,"b":980,"c":990,"d":1280,"e":5110},
{"t":33.625,"a":1090,"b":1340,"c":1830,"d":2060,"e":3760},
{"t":33.875,"a":430,"b":660,"c":1210,"d":2670,"e":4430},
{"t":34.125,"a":1230,"b":1120,"c":1480,"d":1420,"e":3620},
{"t":34.375,"a":740,"b":780,"c":1000,"d":2200,"e":5130},
{"t":34.625,"a":930,"b":1250,"c":1700,"d":1790,"e":4210},
{"t":34.875,"a":560,"b":880,"c":1250,"d":2470,"e":3440},
{"t":35.125,"a":1130,"b":430,"c":1050,"d":1310,"e":4700},
{"t":35.375,"a":820,"b":1290,"c":1550,"d":2130,"e":3920},
{"t":35.625,"a":1290,"b":1000,"c":1210,"d":1640,"e":5250},
{"t":35.875,"a":470,"b":700,"c":1780,"d":2360,"e":4000},
{"t":36.125,"a":1020,"b":1240,"c":990,"d":1250,"e":3540},
{"t":36.375,"a":690,"b":1020,"c":1490,"d":2420,"e":4860},
{"t":36.625,"a":1170,"b":480,"c":1180,"d":1880,"e":3850},
{"t":36.875,"a":800,"b":1180,"c":1690,"d":1330,"e":4540},
{"t":37.125,"a":1000,"b":900,"c":1050,"d":2300,"e":3410},
{"t":37.375,"a":430,"b":1390,"c":1330,"d":1720,"e":5170},
{"t":37.625,"a":1120,"b":710,"c":1860,"d":2550,"e":4240},
{"t":37.875,"a":660,"b":1130,"c":1120,"d":1360,"e":3750},
{"t":38.125,"a":1240,"b":660,"c":1460,"d":2150,"e":4720},
{"t":38.375,"a":860,"b":1260,"c":960,"d":1640,"e":3990},
{"t":38.625,"a":540,"b":930,"c":1710,"d":2380,"e":5330},
{"t":38.875,"a":1050,"b":570,"c":1230,"d":1200,"e":3600},
{"t":39.125,"a":780,"b":1310,"c":1540,"d":2060,"e":4450},
{"t":39.375,"a":1190,"b":1040,"c":930,"d":2500,"e":3820},
{"t":39.625,"a":640,"b":690,"c":1380,"d":1430,"e":4990},
{"t":39.875,"a":1030,"b":1270,"c":1760,"d":2190,"e":4130},
{"t":40.125,"a":420,"b":880,"c":1050,"d":1740,"e":3500},
{"t":40.375,"a":940,"b":1030,"c":1620,"d":2440,"e":5080},
{"t":40.625,"a":1240,"b":640,"c":1280,"d":1290,"e":4230},
{"t":40.875,"a":700,"b":1220,"c":930,"d":2250,"e":3680},
{"t":41.125,"a":980,"b":960,"c":1830,"d":1560,"e":4790},
{"t":41.375,"a":540,"b":1290,"c":1220,"d":2570,"e":3950},
{"t":41.625,"a":1300,"b":560,"c":1500,"d":1350,"e":5140},
{"t":41.875,"a":730,"b":1150,"c":1060,"d":2040,"e":4300},
{"t":42.125,"a":1150,"b":780,"c":1740,"d":1790,"e":3550},
{"t":42.375,"a":480,"b":1240,"c":1330,"d":2380,"e":4920},
{"t":42.625,"a":900,"b":1000,"c":920,"d":1250,"e":4040},
{"t":42.875,"a":1200,"b":540,"c":1570,"d":2190,"e":3470},
{"t":43.125,"a":650,"b":1300,"c":1280,"d":1680,"e":5000},
{"t":43.375,"a":1020,"b":720,"c":1720,"d":2460,"e":4180},
{"t":43.625,"a":760,"b":1090,"c":1000,"d":1400,"e":3640},
{"t":43.875,"a":1270,"b":1360,"c":1460,"d":2080,"e":4810},
{"t":44.125,"a":570,"b":650,"c":1130,"d":2550,"e":3860},
{"t":44.375,"a":1030,"b":1070,"c":1780,"d":1480,"e":5230},
{"t":44.625,"a":430,"b":860,"c":1200,"d":2240,"e":4140},
{"t":44.875,"a":1160,"b":1300,"c":1560,"d":1710,"e":3480},
{"t":45.125,"a":800,"b":740,"c":1020,"d":2430,"e":4640},
{"t":45.375,"a":1070,"b":1110,"c":1690,"d":1320,"e":3900},
{"t":45.625,"a":590,"b":1270,"c":1240,"d":2130,"e":5150},
{"t":45.875,"a":1240,"b":600,"c":930,"d":1800,"e":4220},
{"t":46.125,"a":700,"b":1080,"c":1530,"d":2560,"e":3580},
{"t":46.375,"a":1010,"b":930,"c":1280,"d":1370,"e":4890},
{"t":46.625,"a":550,"b":1240,"c":1800,"d":2110,"e":4020},
{"t":46.875,"a":1180,"b":760,"c":1060,"d":1690,"e":3630},
{"t":47.125,"a":730,"b":1130,"c":1430,"d":2480,"e":5090},
{"t":47.375,"a":1280,"b":1370,"c":1000,"d":1290,"e":4310},
{"t":47.625,"a":460,"b":700,"c":1600,"d":2050,"e":3720},
{"t":47.875,"a":1090,"b":1020,"c":1270,"d":1760,"e":4680},
{"t":48.125,"a":820,"b":1260,"c":1740,"d":2590,"e":3850},
{"t":48.375,"a":1200,"b":600,"c":1100,"d":1440,"e":5220},
{"t":48.625,"a":600,"b":1130,"c":1490,"d":2170,"e":4080},
{"t":48.875,"a":1050,"b":900,"c":950,"d":1600,"e":3450},
{"t":49.125,"a":740,"b":1280,"c":1780,"d":2400,"e":4770},
{"t":49.375,"a":1150,"b":700,"c":1220,"d":1350,"e":3950},
{"t":49.625,"a":490,"b":1090,"c":1510,"d":2210,"e":5060},
{"t":49.875,"a":1060,"b":1250,"c":1060,"d":1830,"e":4200},
{"t":50.125,"a":790,"b":660,"c":1730,"d":2480,"e":3600},
{"t":50.375,"a":1290,"b":1130,"c":1320,"d":1240,"e":4880},
{"t":50.625,"a":540,"b":930,"c":960,"d":2100,"e":4050},
{"t":50.875,"a":960,"b":1300,"c":1590,"d":1670,"e":3520},
{"t":51.125,"a":700,"b":760,"c":1210,"d":2530,"e":5230},
{"t":51.375,"a":1240,"b":1050,"c":1820,"d":1410,"e":4340},
{"t":51.625,"a":870,"b":1270,"c":1050,"d":2260,"e":3770},
{"t":51.875,"a":1080,"b":640,"c":1420,"d":1760,"e":4720},
{"t":52.125,"a":460,"b":1180,"c":1690,"d":2420,"e":3940},
{"t":52.375,"a":1160,"b":950,"c":1150,"d":1330,"e":5150},
{"t":52.625,"a":780,"b":1290,"c":1500,"d":2070,"e":4180},
{"t":52.875,"a":1030,"b":560,"c":980,"d":1640,"e":3600},
{"t":53.125,"a":630,"b":1080,"c":1780,"d":2510,"e":4790},
{"t":53.375,"a":1250,"b":860,"c":1240,"d":1460,"e":3890},
{"t":53.625,"a":520,"b":1320,"c":1570,"d":2200,"e":5200},
{"t":53.875,"a":960,"b":750,"c":1040,"d":1790,"e":4240},
{"t":54.125,"a":740,"b":1160,"c":1710,"d":2390,"e":3510},
{"t":54.375,"a":1180,"b":990,"c":1290,"d":1250,"e":4760},
{"t":54.625,"a":600,"b":600,"c":1000,"d":2130,"e":4010},
{"t":54.875,"a":1040,"b":1260,"c":1650,"d":1620,"e":3660},
{"t":55.125,"a":850,"b":770,"c":1330,"d":2460,"e":5090},
{"t":55.375,"a":1230,"b":1190,"c":1010,"d":1380,"e":4200},
{"t":55.625,"a":610,"b":890,"c":1590,"d":2170,"e":3590},
{"t":55.875,"a":930,"b":1240,"c":1200,"d":1700,"e":4400}
]},
"data": {"name": "lc"},
"vconcat": [
{
 "width": 604, "height": 90,
 "title": {"text": "ae506024010_20120115180804_wam1_bst_4band_nobin.qdp", "anchor": "start", "frame": "group", "fontSize": 15, "fontWeight": "normal", "font": "Liberation Sans", "color": "black", "offset": 5},
 "layer": [
  {"mark": {"type": "line", "color": "#ff0000"},
   "encoding": {
    "x": {"field": "t", "type": "quantitative", "scale": {"domain": [-9.56, 57.3], "nice": false, "zero": false}, "axis": {"orient": "bottom", "values": [0,10,20,30,40,50], "tickSize": -6, "labels": false, "title": null}},
    "y": {"field": "a", "type": "quantitative", "scale": {"domain": [20, 1770], "nice": false, "zero": false}, "axis": {"orient": "left", "values": [500,1000,1500], "tickSize": -6, "title": null}}}},
  {"data": {"name": "lc2"},
   "mark": {"type": "line", "color": "#ff0000"},
   "encoding": {
    "x": {"field": "t", "type": "quantitative", "scale": {"domain": [-9.56, 57.3], "nice": false, "zero": false}, "axis": null},
    "y": {"field": "a", "type": "quantitative", "scale": {"domain": [20, 1770], "nice": false, "zero": false}, "axis": null}}},
  {"mark": {"type": "point", "opacity": 0},
   "encoding": {
    "x": {"field": "t", "type": "quantitative", "scale": {"domain": [-9.56, 57.3], "nice": false, "zero": false}, "axis": {"orient": "top", "values": [0,10,20,30,40,50], "tickSize": -6, "labels": false, "title": null}},
    "y": {"field": "a", "type": "quantitative", "scale": {"domain": [20, 1770], "nice": false, "zero": false}, "axis": {"orient": "right", "values": [500,1000,1500], "tickSize": -6, "labels": false, "title": null}}}},
  {"mark": {"type": "point", "opacity": 0},
   "encoding": {
    "x": {"field": "t", "type": "quantitative", "scale": {"domain": [-9.56, 57.3], "nice": false, "zero": false}, "axis": {"orient": "bottom", "values": [-8,-6,-4,-2,2,4,6,8,12,14,16,18,22,24,26,28,32,34,36,38,42,44,46,48,52,54,56], "tickSize": -3, "labels": false, "title": null}},
    "y": {"field": "a", "type": "quantitative", "scale": {"domain": [20, 1770], "nice": false, "zero": false}, "axis": {"orient": "left", "values": [100,200,300,400,600,700,800,900,1100,1200,1300,1400,1600,1700], "tickSize": -3, "labels": false, "title": null}}}},
  {"mark": {"type": "point", "opacity": 0},
   "encoding": {
    "x": {"field": "t", "type": "quantitative", "scale": {"domain": [-9.56, 57.3], "nice": false, "zero": false}, "axis": {"orient": "top", "values": [-8,-6,-4,-2,2,4,6,8,12,14,16,18,22,24,26,28,32,34,36,38,42,44,46,48,52,54,56], "tickSize": -3, "labels": false, "title": null}},
    "y": {"field": "a", "type": "quantitative", "scale": {"domain": [20, 1770], "nice": false, "zero": false}, "axis": {"orient": "right", "values": [100,200,300,400,600,700,800,900,1100,1200,1300,1400,1600,1700], "tickSize": -3, "labels": false, "title": null}}}},
  {"data": {"values": [{"label": "TH0"}]},
   "mark": {"type": "text", "align": "right", "baseline": "top", "dx": -6, "dy": 2, "fontSize": 15, "font": "Liberation Sans", "color": "black"},
   "encoding": {
    "x": {"datum": 57.3, "type": "quantitative", "scale": {"domain": [-9.56, 57.3], "nice": false, "zero": false}, "axis": null},
    "y": {"datum": 1770, "type": "quantitative", "scale": {"domain": [20, 1770], "nice": false, "zero": false}, "axis": null},
    "text": {"field": "label"}}}
 ],
 "resolve": {"axis": {"x": "independent", "y": "independent"}}
},
{
 "width": 604, "height": 90,
 "layer": [
  {"mark": {"type": "line", "color": "#00ff00"},
   "encoding": {
    "x": {"field": "t", "type": "quantitative", "scale": {"domain": [-9.56, 57.3], "nice": false, "zero": false}, "axis": {"orient": "bottom", "values": [0,10,20,30,40,50], "tickSize": -6, "labels": false, "title": null}},
    "y": {"field": "b", "type": "quantitative", "scale": {"domain": [35, 1625], "nice": false, "zero": false}, "axis": {"orient": "left", "values": [500,1000,1500], "tickSize": -6, "title": null}}}},
  {"data": {"name": "lc2"},
   "mark": {"type": "line", "color": "#00ff00"},
   "encoding": {
    "x": {"field": "t", "type": "quantitative", "scale": {"domain": [-9.56, 57.3], "nice": false, "zero": false}, "axis": null},
    "y": {"field": "b", "type": "quantitative", "scale": {"domain": [35, 1625], "nice": false, "zero": false}, "axis": null}}},
  {"mark": {"type": "point", "opacity": 0},
   "encoding": {
    "x": {"field": "t", "type": "quantitative", "scale": {"domain": [-9.56, 57.3], "nice": false, "zero": false}, "axis": {"orient": "top", "values": [0,10,20,30,40,50], "tickSize": -6, "labels": false, "title": null}},
    "y": {"field": "b", "type": "quantitative", "scale": {"domain": [35, 1625], "nice": false, "zero": false}, "axis": {"orient": "right", "values": [500,1000,1500], "tickSize": -6, "labels": false, "title": null}}}},
  {"mark": {"type": "point", "opacity": 0},
   "encoding": {
    "x": {"field": "t", "type": "quantitative", "scale": {"domain": [-9.56, 57.3], "nice": false, "zero": false}, "axis": {"orient": "bottom", "values": [-8,-6,-4,-2,2,4,6,8,12,14,16,18,22,24,26,28,32,34,36,38,42,44,46,48,52,54,56], "tickSize": -3, "labels": false, "title": null}},
    "y": {"field": "b", "type": "quantitative", "scale": {"domain": [35, 1625], "nice": false, "zero": false}, "axis": {"orient": "left", "values": [100,200,300,400,600,700,800,900,1100,1200,1300,1400,1600], "tickSize": -3, "labels": false, "title": null}}}},
  {"mark": {"type": "point", "opacity": 0},
   "encoding": {
    "x": {"field": "t", "type": "quantitative", "scale": {"domain": [-9.56, 57.3], "nice": false, "zero": false}, "axis": {"orient": "top", "values": [-8,-6,-4,-2,2,4,6,8,12,14,16,18,22,24,26,28,32,34,36,38,42,44,46,48,52,54,56], "tickSize": -3, "labels": false, "title": null}},
    "y": {"field": "b", "type": "quantitative", "scale": {"domain": [35, 1625], "nice": false, "zero": false}, "axis": {"orient": "right", "values": [100,200,300,400,600,700,800,900,1100,1200,1300,1400,1600], "tickSize": -3, "labels": false, "title": null}}}},
  {"data": {"values": [{"label": "TH1"}]},
   "mark": {"type": "text", "align": "right", "baseline": "top", "dx": -5, "dy": 2, "fontSize": 15, "font": "Liberation Sans", "color": "black"},
   "encoding": {
    "x": {"datum": 57.3, "type": "quantitative", "scale": {"domain": [-9.56, 57.3], "nice": false, "zero": false}, "axis": null},
    "y": {"datum": 1625, "type": "quantitative", "scale": {"domain": [35, 1625], "nice": false, "zero": false}, "axis": null},
    "text": {"field": "label"}}}
 ],
 "resolve": {"axis": {"x": "independent", "y": "independent"}}
},
{
 "width": 604, "height": 90,
 "layer": [
  {"mark": {"type": "line", "color": "#0000ff"},
   "encoding": {
    "x": {"field": "t", "type": "quantitative", "scale": {"domain": [-9.56, 57.3], "nice": false, "zero": false}, "axis": {"orient": "bottom", "values": [0,10,20,30,40,50], "tickSize": -6, "labels": false, "title": null}},
    "y": {"field": "c", "type": "quantitative", "scale": {"domain": [220, 2470], "nice": false, "zero": false}, "axis": {"orient": "left", "values": [500,1000,1500,2000], "tickSize": -6, "title": "Counts/sec", "titleY": 52}}}},
  {"data": {"name": "lc2"},
   "mark": {"type": "line", "color": "#0000ff"},
   "encoding": {
    "x": {"field": "t", "type": "quantitative", "scale": {"domain": [-9.56, 57.3], "nice": false, "zero": false}, "axis": null},
    "y": {"field": "c", "type": "quantitative", "scale": {"domain": [220, 2470], "nice": false, "zero": false}, "axis": null}}},
  {"mark": {"type": "point", "opacity": 0},
   "encoding": {
    "x": {"field": "t", "type": "quantitative", "scale": {"domain": [-9.56, 57.3], "nice": false, "zero": false}, "axis": {"orient": "top", "values": [0,10,20,30,40,50], "tickSize": -6, "labels": false, "title": null}},
    "y": {"field": "c", "type": "quantitative", "scale": {"domain": [220, 2470], "nice": false, "zero": false}, "axis": {"orient": "right", "values": [500,1000,1500,2000], "tickSize": -6, "labels": false, "title": null}}}},
  {"mark": {"type": "point", "opacity": 0},
   "encoding": {
    "x": {"field": "t", "type": "quantitative", "scale": {"domain": [-9.56, 57.3], "nice": false, "zero": false}, "axis": {"orient": "bottom", "values": [-8,-6,-4,-2,2,4,6,8,12,14,16,18,22,24,26,28,32,34,36,38,42,44,46,48,52,54,56], "tickSize": -3, "labels": false, "title": null}},
    "y": {"field": "c", "type": "quantitative", "scale": {"domain": [220, 2470], "nice": false, "zero": false}, "axis": {"orient": "left", "values": [300,400,600,700,800,900,1100,1200,1300,1400,1600,1700,1800,1900,2100,2200,2300,2400], "tickSize": -3, "labels": false, "title": null}}}},
  {"mark": {"type": "point", "opacity": 0},
   "encoding": {
    "x": {"field": "t", "type": "quantitative", "scale": {"domain": [-9.56, 57.3], "nice": false, "zero": false}, "axis": {"orient": "top", "values": [-8,-6,-4,-2,2,4,6,8,12,14,16,18,22,24,26,28,32,34,36,38,42,44,46,48,52,54,56], "tickSize": -3, "labels": false, "title": null}},
    "y": {"field": "c", "type": "quantitative", "scale": {"domain": [220, 2470], "nice": false, "zero": false}, "axis": {"orient": "right", "values": [300,400,600,700,800,900,1100,1200,1300,1400,1600,1700,1800,1900,2100,2200,2300,2400], "tickSize": -3, "labels": false, "title": null}}}},
  {"data": {"values": [{"label": "TH2"}]},
   "mark": {"type": "text", "align": "right", "baseline": "top", "dx": -5, "dy": 2, "fontSize": 15, "font": "Liberation Sans", "color": "black"},
   "encoding": {
    "x": {"datum": 57.3, "type": "quantitative", "scale": {"domain": [-9.56, 57.3], "nice": false, "zero": false}, "axis": null},
    "y": {"datum": 2470, "type": "quantitative", "scale": {"domain": [220, 2470], "nice": false, "zero": false}, "axis": null},
    "text": {"field": "label"}}}
 ],
 "resolve": {"axis": {"x": "independent", "y": "independent"}}
},
{
 "width": 604, "height": 90,
 "layer": [
  {"mark": {"type": "line", "color": "#00ffff"},
   "encoding": {
    "x": {"field": "t", "type": "quantitative", "scale": {"domain": [-9.56, 57.3], "nice": false, "zero": false}, "axis": {"orient": "bottom", "values": [0,10,20,30,40,50], "tickSize": -6, "labels": false, "title": null}},
    "y": {"field": "d", "type": "quantitative", "scale": {"domain": [475, 3040], "nice": false, "zero": false}, "axis": {"orient": "left", "values": [1000,2000,3000], "tickSize": -6, "title": null}}}},
  {"data": {"name": "lc2"},
   "mark": {"type": "line", "color": "#00ffff"},
   "encoding": {
    "x": {"field": "t", "type": "quantitative", "scale": {"domain": [-9.56, 57.3], "nice": false, "zero": false}, "axis": null},
    "y": {"field": "d", "type": "quantitative", "scale": {"domain": [475, 3040], "nice": false, "zero": false}, "axis": null}}},
  {"mark": {"type": "point", "opacity": 0},
   "encoding": {
    "x": {"field": "t", "type": "quantitative", "scale": {"domain": [-9.56, 57.3], "nice": false, "zero": false}, "axis": {"orient": "top", "values": [0,10,20,30,40,50], "tickSize": -6, "labels": false, "title": null}},
    "y": {"field": "d", "type": "quantitative", "scale": {"domain": [475, 3040], "nice": false, "zero": false}, "axis": {"orient": "right", "values": [1000,2000,3000], "tickSize": -6, "labels": false, "title": null}}}},
  {"mark": {"type": "point", "opacity": 0},
   "encoding": {
    "x": {"field": "t", "type": "quantitative", "scale": {"domain": [-9.56, 57.3], "nice": false, "zero": false}, "axis": {"orient": "bottom", "values": [-8,-6,-4,-2,2,4,6,8,12,14,16,18,22,24,26,28,32,34,36,38,42,44,46,48,52,54,56], "tickSize": -3, "labels": false, "title": null}},
    "y": {"field": "d", "type": "quantitative", "scale": {"domain": [475, 3040], "nice": false, "zero": false}, "axis": {"orient": "left", "values": [600,800,1200,1400,1600,1800,2200,2400,2600,2800], "tickSize": -3, "labels": false, "title": null}}}},
  {"mark": {"type": "point", "opacity": 0},
   "encoding": {
    "x": {"field": "t", "type": "quantitative", "scale": {"domain": [-9.56, 57.3], "nice": false, "zero": false}, "axis": {"orient": "top", "values": [-8,-6,-4,-2,2,4,6,8,12,14,16,18,22,24,26,28,32,34,36,38,42,44,46,48,52,54,56], "tickSize": -3, "labels": false, "title": null}},
    "y": {"field": "d", "type": "quantitative", "scale": {"domain": [475, 3040], "nice": false, "zero": false}, "axis": {"orient": "right", "values": [600,800,1200,1400,1600,1800,2200,2400,2600,2800], "tickSize": -3, "labels": false, "title": null}}}},
  {"data": {"values": [{"label": "TH3"}]},
   "mark": {"type": "text", "align": "right", "baseline": "top", "dx": -5, "dy": 2, "fontSize": 15, "font": "Liberation Sans", "color": "black"},
   "encoding": {
    "x": {"datum": 57.3, "type": "quantitative", "scale": {"domain": [-9.56, 57.3], "nice": false, "zero": false}, "axis": null},
    "y": {"datum": 3040, "type": "quantitative", "scale": {"domain": [475, 3040], "nice": false, "zero": false}, "axis": null},
    "text": {"field": "label"}}}
 ],
 "resolve": {"axis": {"x": "independent", "y": "independent"}}
},
{
 "width": 604, "height": 90,
 "layer": [
  {"mark": {"type": "line", "color": "#ff00ff"},
   "encoding": {
    "x": {"field": "t", "type": "quantitative", "scale": {"domain": [-9.56, 57.3], "nice": false, "zero": false}, "axis": {"orient": "bottom", "values": [0,10,20,30,40,50], "tickSize": -6, "labels": true, "title": "Time [sec] 0 = 2012/01/15 18:08:04.248", "labelPadding": 7, "titlePadding": 2}},
    "y": {"field": "e", "type": "quantitative", "scale": {"domain": [2000, 6360], "nice": false, "zero": false}, "axis": {"orient": "left", "values": [2000,3000,4000,5000,6000], "tickSize": -6, "title": null}}}},
  {"data": {"name": "lc2"},
   "mark": {"type": "line", "color": "#ff00ff"},
   "encoding": {
    "x": {"field": "t", "type": "quantitative", "scale": {"domain": [-9.56, 57.3], "nice": false, "zero": false}, "axis": null},
    "y": {"field": "e", "type": "quantitative", "scale": {"domain": [2000, 6360], "nice": false, "zero": false}, "axis": null}}},
  {"mark": {"type": "point", "opacity": 0},
   "encoding": {
    "x": {"field": "t", "type": "quantitative", "scale": {"domain": [-9.56, 57.3], "nice": false, "zero": false}, "axis": {"orient": "top", "values": [0,10,20,30,40,50], "tickSize": -6, "labels": false, "title": null}},
    "y": {"field": "e", "type": "quantitative", "scale": {"domain": [2000, 6360], "nice": false, "zero": false}, "axis": {"orient": "right", "values": [2000,3000,4000,5000,6000], "tickSize": -6, "labels": false, "title": null}}}},
  {"mark": {"type": "point", "opacity": 0},
   "encoding": {
    "x": {"field": "t", "type": "quantitative", "scale": {"domain": [-9.56, 57.3], "nice": false, "zero": false}, "axis": {"orient": "bottom", "values": [-8,-6,-4,-2,2,4,6,8,12,14,16,18,22,24,26,28,32,34,36,38,42,44,46,48,52,54,56], "tickSize": -3, "labels": false, "title": null}},
    "y": {"field": "e", "type": "quantitative", "scale": {"domain": [2000, 6360], "nice": false, "zero": false}, "axis": {"orient": "left", "values": [2200,2400,2600,2800,3200,3400,3600,3800,4200,4400,4600,4800,5200,5400,5600,5800,6200], "tickSize": -3, "labels": false, "title": null}}}},
  {"mark": {"type": "point", "opacity": 0},
   "encoding": {
    "x": {"field": "t", "type": "quantitative", "scale": {"domain": [-9.56, 57.3], "nice": false, "zero": false}, "axis": {"orient": "top", "values": [-8,-6,-4,-2,2,4,6,8,12,14,16,18,22,24,26,28,32,34,36,38,42,44,46,48,52,54,56], "tickSize": -3, "labels": false, "title": null}},
    "y": {"field": "e", "type": "quantitative", "scale": {"domain": [2000, 6360], "nice": false, "zero": false}, "axis": {"orient": "right", "values": [2200,2400,2600,2800,3200,3400,3600,3800,4200,4400,4600,4800,5200,5400,5600,5800,6200], "tickSize": -3, "labels": false, "title": null}}}},
  {"data": {"values": [{"label": "TH0123"}]},
   "mark": {"type": "text", "align": "right", "baseline": "top", "dx": -2, "dy": 2, "fontSize": 15, "font": "Liberation Sans", "color": "black"},
   "encoding": {
    "x": {"datum": 57.3, "type": "quantitative", "scale": {"domain": [-9.56, 57.3], "nice": false, "zero": false}, "axis": null},
    "y": {"datum": 6360, "type": "quantitative", "scale": {"domain": [2000, 6360], "nice": false, "zero": false}, "axis": null},
    "text": {"field": "label"}}}
 ],
 "resolve": {"axis": {"x": "independent", "y": "independent"}}
}
]
}
